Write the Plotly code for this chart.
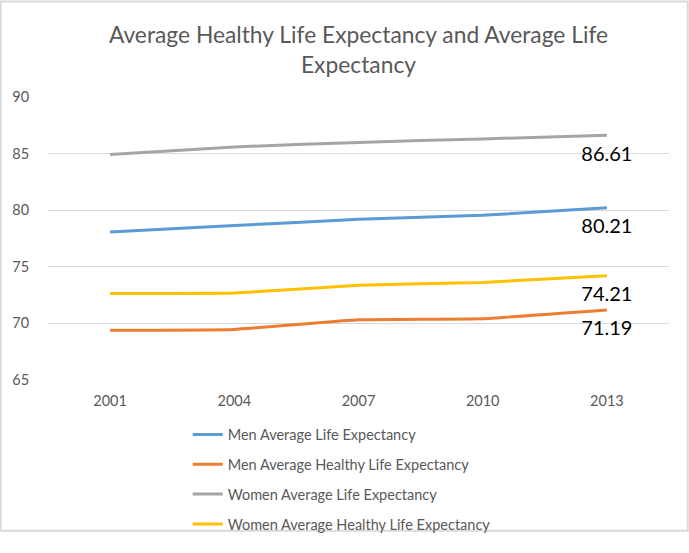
import plotly.graph_objects as go

# Datos
years = ["2001", "2004", "2007", "2010", "2013"]
men_life = [78.07, 78.64, 79.19, 79.55, 80.21]
men_healthy = [69.40, 69.47, 70.33, 70.42, 71.19]
women_life = [84.93, 85.59, 85.99, 86.30, 86.61]
women_healthy = [72.65, 72.69, 73.36, 73.62, 74.21]

series = [
    ("Men Average Life Expectancy", men_life, "#5B9BD5"),
    ("Men Average Healthy Life Expectancy", men_healthy, "#ED7D31"),
    ("Women Average Life Expectancy", women_life, "#A5A5A5"),
    ("Women Average Healthy Life Expectancy", women_healthy, "#FFC000"),
]

# alto visible de la ventana (aprox.)
W, H = 689, 536
ml, mr, mt, mb = 48, 20, 97, 153
pw, ph = W - ml - mr, H - mt - mb

fig = go.Figure()
for i, (name, vals, color) in enumerate(series):
    fig.add_trace(go.Scatter(x=years, y=vals, name=name, mode="lines",
                             line=dict(color=color, width=3, shape="spline", smoothing=0.3),
                             legendgroup=str(i)))

# etiquetas del ultimo punto (marcador invisible para separar el texto)
for name, vals, color in series:
    fig.add_trace(go.Scatter(x=years[-1:], y=vals[-1:], mode="markers+text",
                             text=[f"{vals[-1]:.2f}"], textposition="bottom center",
                             textfont=dict(family="Lato", size=20, color="black"),
                             marker=dict(size=15, color="rgba(0,0,0,0)", line=dict(width=0)),
                             cliponaxis=False, showlegend=False, hoverinfo="skip"))

#Titulo y ejes
fig.update_layout(
    autosize=True,
    margin=dict(l=ml, r=mr, t=mt, b=mb),
    paper_bgcolor="white", plot_bgcolor="white",
    font=dict(family="Lato", size=14.5, color="#595959"),
    title=dict(text="Average Healthy Life Expectancy and Average Life<br>Expectancy",
               x=0.5, xanchor="center", xref="paper",
               y=1 - 42 / H, yanchor="top", yref="container",
               font=dict(family="Lato", size=22.8, color="#595959")),
    xaxis=dict(type="category", range=[-0.5, 4.5], showgrid=False,
               showline=False, zeroline=False,
               ticks="outside", ticklen=8, tickcolor="rgba(0,0,0,0)"),
    yaxis=dict(range=[65, 90], dtick=5, gridcolor="#D9D9D9", gridwidth=1,
               zeroline=False, showline=False,
               ticks="outside", ticklen=15, tickcolor="rgba(0,0,0,0)"),
    legend=dict(orientation="v", x=0.225, xanchor="left", y=-0.136, yanchor="top",
                tracegroupgap=8, font=dict(size=14.5, color="#595959"),
                bgcolor="rgba(0,0,0,0)"),
)

# Marco exterior
fig.add_shape(type="rect", xref="paper", yref="paper",
              x0=-ml / pw + 0.001, x1=1 + mr / pw - 0.002,
              y0=-mb / ph + 0.002, y1=1 + mt / ph - 0.002,
              line=dict(color="#D9D9D9", width=2), layer="below")

fig.write_html("out.html", config={"displayModeBar": False},
               default_width="100vw", default_height="100vh",
               post_script="document.body.style.margin='0';"
                           "document.body.style.overflow='hidden';"
                           "document.documentElement.style.overflow='hidden';")
